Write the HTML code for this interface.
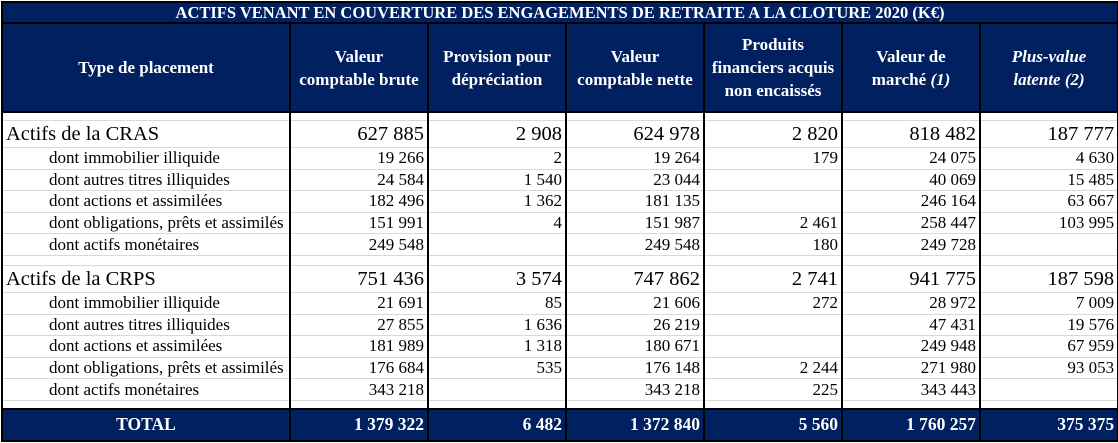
<!DOCTYPE html>
<html><head><meta charset="utf-8">
<style>
html,body{margin:0;padding:0;background:#fff;}
table{border-collapse:collapse;table-layout:fixed;width:1116px;margin-left:1px;margin-top:1px;font-family:"Liberation Serif",serif;color:#000;}
td{padding:0 3px;border-left:2px solid #000;border-right:2px solid #000;border-top:1px solid #d9d9d9;border-bottom:1px solid #d9d9d9;white-space:nowrap;overflow:hidden;}
tr.t td{background:#002060;color:#fff;font-weight:bold;font-size:16.5px;text-align:center;border:2px solid #000;height:19px;line-height:18px;}
tr.h td{background:#002060;color:#fff;font-weight:bold;font-size:17px;text-align:center;border:2px solid #000;height:87px;line-height:23px;white-space:normal;}
tr.s td{height:7px;font-size:1px;}
tr.b td{height:26px;font-size:20.5px;text-align:right;line-height:24px;}
tr.b td:first-child{text-align:left;padding-left:3px;}
tr.r td{height:20.6px;font-size:17px;text-align:right;line-height:20px;}
tr.r td:first-child{text-align:left;padding-left:46px;}
tr.tot td{background:#002060;color:#fff;font-weight:bold;font-size:17.5px;text-align:right;border:2px solid #000;height:30px;}
tr.tot td:first-child{text-align:center;}
</style></head><body>
<table>
<colgroup><col style="width:288px"><col style="width:138px"><col style="width:138px"><col style="width:138px"><col style="width:138px"><col style="width:138px"><col style="width:138px"></colgroup>
<tr class="t"><td colspan="7">ACTIFS VENANT EN COUVERTURE DES ENGAGEMENTS DE RETRAITE A LA CLOTURE 2020 (K€)</td></tr>
<tr class="h">
<td>Type de placement</td>
<td>Valeur<br>comptable brute</td>
<td>Provision pour<br>dépréciation</td>
<td>Valeur<br>comptable nette</td>
<td>Produits<br>financiers acquis<br>non encaissés</td>
<td>Valeur de<br>marché <i>(1)</i></td>
<td><i>Plus-value<br>latente (2)</i></td>
</tr>
<tr class="s"><td></td><td></td><td></td><td></td><td></td><td></td><td></td></tr>
<tr class="b"><td>Actifs de la CRAS</td><td>627 885</td><td>2 908</td><td>624 978</td><td>2 820</td><td>818 482</td><td>187 777</td></tr>
<tr class="r"><td>dont immobilier illiquide</td><td>19 266</td><td>2</td><td>19 264</td><td>179</td><td>24 075</td><td>4 630</td></tr>
<tr class="r"><td>dont autres titres illiquides</td><td>24 584</td><td>1 540</td><td>23 044</td><td></td><td>40 069</td><td>15 485</td></tr>
<tr class="r"><td>dont actions et assimilées</td><td>182 496</td><td>1 362</td><td>181 135</td><td></td><td>246 164</td><td>63 667</td></tr>
<tr class="r"><td>dont obligations, prêts et assimilés</td><td>151 991</td><td>4</td><td>151 987</td><td>2 461</td><td>258 447</td><td>103 995</td></tr>
<tr class="r"><td>dont actifs monétaires</td><td>249 548</td><td></td><td>249 548</td><td>180</td><td>249 728</td><td></td></tr>
<tr class="s"><td style="height:9px"></td><td></td><td></td><td></td><td></td><td></td><td></td></tr>
<tr class="b"><td>Actifs de la CRPS</td><td>751 436</td><td>3 574</td><td>747 862</td><td>2 741</td><td>941 775</td><td>187 598</td></tr>
<tr class="r"><td>dont immobilier illiquide</td><td>21 691</td><td>85</td><td>21 606</td><td>272</td><td>28 972</td><td>7 009</td></tr>
<tr class="r"><td>dont autres titres illiquides</td><td>27 855</td><td>1 636</td><td>26 219</td><td></td><td>47 431</td><td>19 576</td></tr>
<tr class="r"><td>dont actions et assimilées</td><td>181 989</td><td>1 318</td><td>180 671</td><td></td><td>249 948</td><td>67 959</td></tr>
<tr class="r"><td>dont obligations, prêts et assimilés</td><td>176 684</td><td>535</td><td>176 148</td><td>2 244</td><td>271 980</td><td>93 053</td></tr>
<tr class="r"><td>dont actifs monétaires</td><td>343 218</td><td></td><td>343 218</td><td>225</td><td>343 443</td><td></td></tr>
<tr class="s"><td></td><td></td><td></td><td></td><td></td><td></td><td></td></tr>
<tr class="tot"><td>TOTAL</td><td>1 379 322</td><td>6 482</td><td>1 372 840</td><td>5 560</td><td>1 760 257</td><td>375 375</td></tr>
</table>
</body></html>
